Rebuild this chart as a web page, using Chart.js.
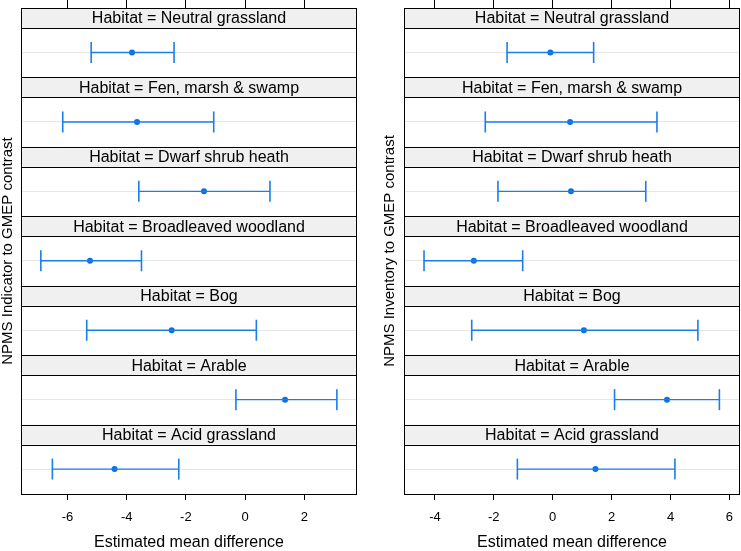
<!DOCTYPE html>
<html>
<head>
<meta charset="utf-8">
<script src="https://cdn.jsdelivr.net/npm/chart.js@4/dist/chart.umd.min.js"></script>
<style>
  body { margin: 0; background: #fff; }
  #wrap { position: relative; width: 741px; height: 551px; }
  canvas { position: absolute; top: 0; }
</style>
</head>
<body>
<div id="wrap">
  <canvas id="left" width="370" height="551" style="left:0"></canvas>
  <canvas id="right" width="371" height="551" style="left:370px"></canvas>
</div>
<script>
// facets, top to bottom
const habitats = [
  "Neutral grassland",
  "Fen, marsh & swamp",
  "Dwarf shrub heath",
  "Broadleaved woodland",
  "Bog",
  "Arable",
  "Acid grassland"
];

// NPMS Indicator to GMEP contrast
const indicatorLower = [-5.20, -6.16, -3.59, -6.90, -5.35, -0.31, -6.51];
const indicatorEst   = [-3.82, -3.65, -1.39, -5.24, -2.48,  1.35, -4.41];
const indicatorUpper = [-2.40, -1.06,  0.84, -3.50,  0.38,  3.10, -2.24];
const indicatorTicks = [-6, -4, -2, 0, 2];

// NPMS Inventory to GMEP contrast
const inventoryLower = [-1.55, -2.29, -1.86, -4.37, -2.75, 2.10, -1.20];
const inventoryEst   = [-0.08,  0.59,  0.62, -2.68,  1.06, 3.88,  1.45];
const inventoryUpper = [ 1.39,  3.54,  3.16, -1.02,  4.93, 5.66,  4.15];
const inventoryTicks = [-4, -2, 0, 2, 4, 6];

const FONT = "'Liberation Sans', Arial, sans-serif";
const BLUE = "#1a7ee8";
const DOT = "#0a6fe0";

// each facet is one y unit: strip on top, panel below, point at integer value
const ABOVE = 0.641;   // from facet top to point
const STRIP = 0.288;   // strip height

const stripPlugin = {
  id: "strips",
  beforeDatasetsDraw(chart) {
    const { ctx, chartArea: a, scales: { y } } = chart;
    const snap = v => Math.round(v) + 0.5;
    ctx.save();
    ctx.lineWidth = 1;
    ctx.strokeStyle = "#000";
    habitats.forEach((h, i) => {
      const top = y.getPixelForValue(i - ABOVE);
      const bot = y.getPixelForValue(i - ABOVE + STRIP);
      ctx.fillStyle = "#f0f0f0";
      ctx.fillRect(a.left, top, a.right - a.left, bot - top);
      ctx.beginPath();
      ctx.moveTo(a.left, snap(top)); ctx.lineTo(a.right, snap(top));
      ctx.moveTo(a.left, snap(bot)); ctx.lineTo(a.right, snap(bot));
      ctx.stroke();
      ctx.fillStyle = "#000";
      ctx.font = "16px " + FONT;
      ctx.textAlign = "center";
      ctx.textBaseline = "middle";
      ctx.fillText("Habitat = " + h, (a.left + a.right) / 2, (top + bot) / 2 + 1);
    });
    ctx.strokeRect(snap(a.left), snap(a.top), Math.round(a.right - a.left) - 1, Math.round(a.bottom - a.top));
    ctx.restore();
  }
};

const noPad = s => { s.paddingLeft = s.paddingRight = s.paddingTop = s.paddingBottom = 0; };

function makePanel(id, lower, est, upper, ticks, min, max, title, axisWidth, titlePad, padRight) {
  const datasets = habitats.map((h, i) => ({
    data: [{ x: lower[i], y: i }, { x: upper[i], y: i }],
    showLine: true,
    borderColor: BLUE,
    borderWidth: 1.4,
    pointStyle: "line",
    rotation: 90,
    pointRadius: 10.5,
    pointBorderColor: BLUE,
    pointBorderWidth: 1.6
  }));
  datasets.push({
    data: est.map((v, i) => ({ x: v, y: i })),
    pointStyle: "circle",
    pointRadius: 3,
    pointBackgroundColor: DOT,
    pointBorderColor: DOT,
    pointBorderWidth: 0
  });

  const setTicks = s => { s.ticks = ticks.map(v => ({ value: v })); };

  new Chart(document.getElementById(id), {
    type: "scatter",
    data: { datasets },
    plugins: [stripPlugin],
    options: {
      responsive: false,
      animation: false,
      devicePixelRatio: 1,
      layout: { autoPadding: false, padding: { left: 0, right: padRight, top: 0, bottom: 0 } },
      plugins: { legend: { display: false }, tooltip: { enabled: false } },
      scales: {
        x: {
          type: "linear", position: "bottom", min, max,
          afterBuildTicks: setTicks,
          afterFit: s => { s.height = 57; noPad(s); },
          grid: { drawOnChartArea: false, drawTicks: true, tickLength: 6, color: "#000", lineWidth: 1 },
          border: { display: false },
          ticks: { padding: 10, color: "#000", font: { size: 13, family: FONT } },
          title: {
            display: true, text: "Estimated mean difference", color: "#000",
            font: { size: 16, family: FONT, lineHeight: 1 }, padding: 0
          }
        },
        x2: {
          type: "linear", position: "top", min, max,
          afterBuildTicks: setTicks,
          afterFit: s => { s.height = 8; noPad(s); },
          grid: { drawOnChartArea: false, drawTicks: true, tickLength: 8, color: "#000", lineWidth: 1 },
          border: { display: false },
          ticks: { display: false }
        },
        y: {
          type: "linear", position: "left", reverse: true,
          min: -ABOVE, max: habitats.length - ABOVE,
          afterBuildTicks: s => { s.ticks = habitats.map((h, i) => ({ value: i })); },
          afterFit: s => { s.width = axisWidth; noPad(s); },
          grid: { color: "#e6e6e6", drawTicks: false, lineWidth: 1 },
          border: { display: false },
          ticks: { display: false },
          title: {
            display: true, text: title, color: "#000",
            font: { size: 15, family: FONT, lineHeight: 1 }, padding: { top: titlePad, bottom: 0 }
          }
        }
      }
    }
  });
}

makePanel("left", indicatorLower, indicatorEst, indicatorUpper, indicatorTicks,
  -7.57, 3.78, "NPMS Indicator to GMEP contrast", 21, 0, 13);
makePanel("right", inventoryLower, inventoryEst, inventoryUpper, inventoryTicks,
  -5.05, 6.36, "NPMS Inventory to GMEP contrast", 34, 12, 1);
</script>
</body>
</html>
